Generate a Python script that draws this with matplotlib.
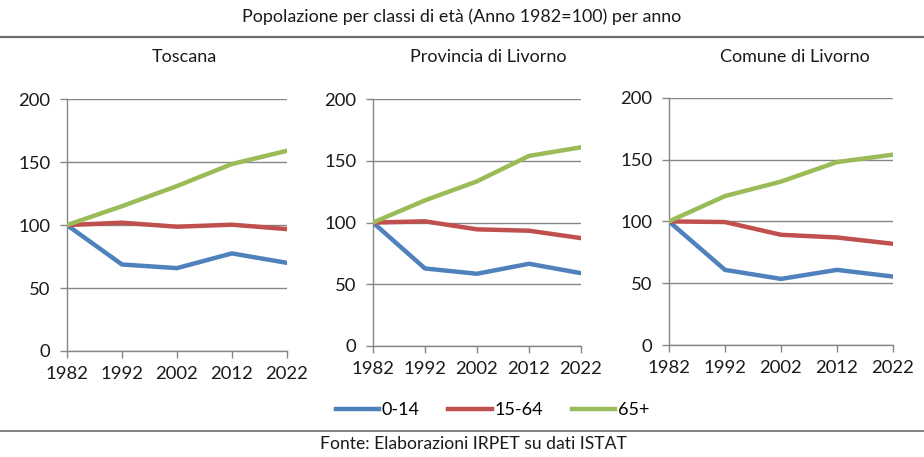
import matplotlib.pyplot as plt
from matplotlib.lines import Line2D

anni = [1982, 1992, 2002, 2012, 2022]
classi = ['0-14', '15-64', '65+']
colori = ['#4F81BD', '#C0504D', '#9BBB59']

toscana = {
    '0-14': [100, 68.7, 65.8, 77.5, 70.0],
    '15-64': [100, 101.9, 98.7, 100.3, 96.8],
    '65+': [100, 115.0, 131.0, 148.5, 159.0],
}
prov_livorno = {
    '0-14': [100, 62.8, 58.5, 66.6, 59.0],
    '15-64': [100, 101.0, 94.5, 93.4, 87.4],
    '65+': [100, 118.0, 133.4, 154.0, 161.0],
}
com_livorno = {
    '0-14': [100, 60.8, 53.5, 60.8, 55.4],
    '15-64': [100, 99.5, 89.2, 87.0, 81.9],
    '65+': [100, 120.5, 132.2, 148.0, 154.0],
}

pannelli = [
    ('Toscana', toscana, [0.0725, 0.232, 0.238, 0.551], 0.200),
    ('Provincia di Livorno', prov_livorno, [0.4037, 0.243, 0.225, 0.540], 0.528),
    ('Comune di Livorno', com_livorno, [0.724, 0.245, 0.2424, 0.541], 0.860),
]

plt.rcParams['font.family'] = ['Lato', 'DejaVu Sans']
grigio = '#868686'
testo = '#1a1a1a'

fig = plt.figure(figsize=(9.24, 4.57), dpi=100)

fig.text(0.5, 1 - 17 / 457, 'Popolazione per classi di età (Anno 1982=100) per anno',
         ha='center', va='center', fontsize=12.9, color=testo)
fig.add_artist(Line2D([0, 1], [1 - 37 / 457] * 2, color='#6e6e6e', lw=1.6))

for titolo, dati, pos, xt in pannelli:
    ax = fig.add_axes(pos)
    for cl, col in zip(classi, colori):
        ax.plot(anni, dati[cl], color=col, lw=3.2, solid_capstyle='round', zorder=3)
    ax.set_xlim(1982, 2022)
    ax.set_ylim(0, 200)
    ax.set_xticks(anni)
    ax.set_yticks([0, 50, 100, 150, 200])
    ax.grid(axis='y', color=grigio, lw=1)
    ax.set_axisbelow(True)
    for s in ['top', 'right']:
        ax.spines[s].set_visible(False)
    for s in ['left', 'bottom']:
        ax.spines[s].set_color(grigio)
        ax.spines[s].set_linewidth(1)
    ax.tick_params(axis='both', colors=grigio, labelcolor=testo, labelsize=13.3,
                   length=5, width=1)
    ax.tick_params(axis='y', pad=7)
    ax.tick_params(axis='x', pad=6)
    fig.text(xt, 1 - 57 / 457, titolo, ha='center', va='center', fontsize=13,
             color=testo)

maniglie = [Line2D([], [], color=c, lw=3.2) for c in colori]
fig.legend(maniglie, classi, loc='center', bbox_to_anchor=(0.533, 1 - 410 / 457),
           ncol=3, frameon=False, fontsize=13, handlelength=2.4, handletextpad=0.15,
           columnspacing=1.6)

fig.add_artist(Line2D([0, 1], [1 - 431 / 457] * 2, color='#6e6e6e', lw=1.2))
fig.text(0.512, 1 - 444 / 457, 'Fonte: Elaborazioni IRPET su dati ISTAT',
         ha='center', va='center', fontsize=12.6, color=testo)

fig.savefig('out.png', dpi=100)
